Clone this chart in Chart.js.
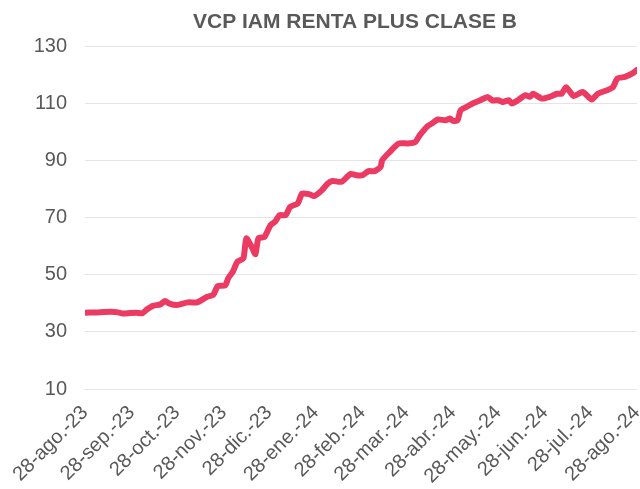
<!DOCTYPE html>
<html>
<head>
<meta charset="utf-8">
<script src="https://cdn.jsdelivr.net/npm/chart.js@4.4.1/dist/chart.umd.min.js"></script>
<style>
  html, body { margin: 0; padding: 0; background: #fff; }
</style>
</head>
<body>
<canvas id="navChart" width="640" height="489"></canvas>
<script>
const chartTitle = 'VCP IAM RENTA PLUS CLASE B';

// monthly tick labels and their day offset from 28-ago-23
const monthLabels = ['28-ago.-23', '28-sep.-23', '28-oct.-23', '28-nov.-23', '28-dic.-23', '28-ene.-24',
  '28-feb.-24', '28-mar.-24', '28-abr.-24', '28-may.-24', '28-jun.-24', '28-jul.-24', '28-ago.-24'];
const monthDays = [0, 31, 61, 92, 122, 153, 184, 213, 244, 274, 305, 335, 366];

// series: day offset and value
const days = [0, 7, 17, 22, 25, 30, 34, 38, 41, 45, 50, 53, 56, 61, 68, 74, 76, 81, 85, 88,
  93, 95, 98, 101, 105, 107, 111, 113, 115, 119, 123, 126, 129, 133, 136, 141, 144, 149, 152, 157,
  161, 164, 170, 176, 180, 184, 188, 192, 196, 197, 202, 208, 214, 219, 222, 227, 230, 234, 239, 242,
  244, 247, 249, 253, 257, 262, 267, 270, 274, 277, 281, 283, 287, 292, 295, 297, 303, 308, 313, 316,
  319, 324, 330, 336, 340, 346, 350, 353, 358, 363, 366];
const values = [36.7, 36.8, 37.0, 36.8, 36.4, 36.6, 36.7, 36.5, 37.8, 39.1, 39.6, 40.8, 39.9, 39.4, 40.3, 40.3, 40.7, 42.3, 42.9, 46.0,
  46.3, 48.8, 51.0, 54.5, 55.7, 62.7, 59.2, 57.2, 62.7, 63.2, 67.3, 68.5, 70.8, 70.8, 73.7, 74.9, 78.4, 78.1, 77.5, 79.5,
  81.9, 82.8, 82.5, 85.2, 84.8, 84.8, 86.2, 86.2, 87.7, 90.0, 92.9, 95.9, 95.9, 96.4, 98.8, 101.9, 102.9, 104.3, 104.0, 104.6,
  103.8, 104.0, 107.5, 108.7, 109.9, 111.0, 112.2, 111.0, 111.0, 110.4, 111.0, 109.9, 111.0, 112.8, 112.2, 113.3, 111.6, 112.2, 113.3, 113.3,
  115.6, 112.5, 113.9, 111.3, 113.3, 114.5, 115.6, 118.6, 119.2, 120.4, 121.6];

const yTicks = [10, 30, 50, 70, 90, 110, 130];

const points = days.map((d, i) => ({ x: d, y: values[i] }));

const FONT = '"Liberation Sans", Arial, sans-serif';
const TEXT = '#595959';

// title drawn a bit right of canvas centre, like the original
const titlePlugin = {
  id: 'chartTitle',
  afterDraw(chart) {
    const c = chart.ctx;
    c.save();
    c.font = 'bold 21px ' + FONT;
    c.fillStyle = TEXT;
    c.textAlign = 'center';
    c.textBaseline = 'middle';
    c.fillText(chartTitle, 355, 22);
    c.restore();
  }
};

new Chart(document.getElementById('navChart'), {
  type: 'line',
  data: {
    datasets: [{
      data: points,
      borderColor: '#ec3b62',
      borderWidth: 6,
      borderCapStyle: 'round',
      borderJoinStyle: 'round',
      pointRadius: 0,
      tension: 0.2,
      fill: false
    }]
  },
  options: {
    responsive: false,
    animation: false,
    layout: { padding: { top: 46, right: 3, left: 0, bottom: 0 } },
    plugins: {
      legend: { display: false },
      tooltip: { enabled: false }
    },
    scales: {
      x: {
        type: 'linear',
        min: monthDays[0],
        max: monthDays[monthDays.length - 1],
        afterBuildTicks: axis => { axis.ticks = monthDays.map(v => ({ value: v })); },
        afterFit: axis => {
          axis.height = 100;
          axis.paddingLeft = 0;
          axis.paddingRight = 0;
        },
        grid: { display: false },
        border: { display: false },
        ticks: {
          autoSkip: false,
          minRotation: 45,
          maxRotation: 45,
          padding: 4,
          color: TEXT,
          font: { family: FONT, size: 20 },
          callback: (v, i) => monthLabels[i]
        }
      },
      y: {
        min: 10,
        max: 130,
        afterBuildTicks: axis => { axis.ticks = yTicks.map(v => ({ value: v })); },
        afterFit: axis => {
          axis.width = 85;
          axis.paddingTop = 0;
          axis.paddingBottom = 0;
        },
        grid: { color: '#e4e4e4', lineWidth: 1, drawTicks: false },
        border: { display: false },
        ticks: {
          padding: 18,
          color: TEXT,
          font: { family: FONT, size: 20 }
        }
      }
    }
  },
  plugins: [titlePlugin]
});
</script>
</body>
</html>
